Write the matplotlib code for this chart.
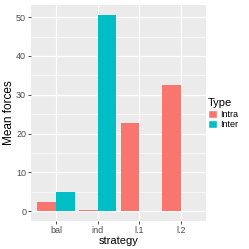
import matplotlib
matplotlib.use("Agg")
import matplotlib.pyplot as plt
import numpy as np
from matplotlib.patches import Patch

strategies = ["bal", "ind", "l.1", "l.2"]
intra = [2.4, 0.3, 22.8, 32.5]
inter = [4.9, 50.6, 0.15, 0.15]
types = ["Intra", "Inter"]
colors = ["#F8766D", "#00BFC4"]

plt.rcParams["font.family"] = ["Liberation Sans", "DejaVu Sans"]

fig = plt.figure(figsize=(2.49, 2.49), dpi=100)
ax = fig.add_axes([0.1245, 0.112, 0.7025, 0.868])
ax.set_facecolor("#EBEBEB")

x = np.arange(len(strategies))
w = 0.45
ax.bar(x - w / 2, intra, w, color=colors[0], zorder=3)
ax.bar(x + w / 2, inter, w, color=colors[1], zorder=3)

ymax = max(max(intra), max(inter))
ax.set_xlim(-0.6, len(strategies) - 0.4)
ax.set_ylim(-0.05 * ymax, 1.05 * ymax)

ax.set_yticks([0, 10, 20, 30, 40, 50])
ax.set_yticks([5, 15, 25, 35, 45], minor=True)
ax.set_xticks(x)
ax.set_xticklabels(strategies)
ax.grid(True, which="major", color="white", linewidth=0.9, zorder=0)
ax.grid(True, which="minor", axis="y", color="white", linewidth=0.45, zorder=0)
ax.set_axisbelow(True)
for s in ax.spines.values():
    s.set_visible(False)
ax.tick_params(which="major", length=2, width=0.6, color="#333333",
               labelsize=6.5, labelcolor="#4D4D4D", pad=1.5)
ax.tick_params(which="minor", length=0)

ax.set_xlabel("strategy", fontsize=8, labelpad=1)
ax.set_ylabel("Mean forces", fontsize=8.5, labelpad=0.5)

handles = [Patch(facecolor=c, edgecolor="white", label=t) for c, t in zip(colors, types)]
leg = fig.legend(handles=handles, title="Type", loc="upper left",
                 bbox_to_anchor=(0.835, 0.605), frameon=False, fontsize=6.5,
                 title_fontsize=8, handlelength=1.0, handleheight=1.0,
                 handletextpad=0.3, labelspacing=0.15, borderpad=0, borderaxespad=0)
leg._legend_box.align = "left"

fig.savefig("out.png", dpi=100)
